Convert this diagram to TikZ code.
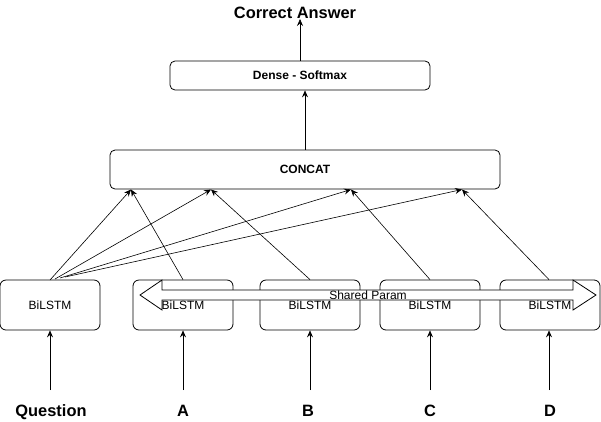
\documentclass[tikz,border=0pt]{standalone}
\usepackage{fontspec}
\setmainfont{Liberation Sans}
\usetikzlibrary{arrows.meta,calc}
\begin{document}
\begin{tikzpicture}[x=1pt,y=-1pt,
  lstm/.style={draw,rounded corners=6pt,line width=0.8pt,minimum width=100pt,minimum height=50pt,inner sep=0pt},
  wide/.style={draw,rounded corners=5pt,line width=0.8pt,inner sep=0pt},
  lbl/.style={font=\fontsize{12}{14}\selectfont},
  blbl/.style={font=\fontsize{12}{14}\selectfont\bfseries},
  big/.style={font=\fontsize{16.4}{19}\selectfont\bfseries,anchor=base,inner sep=0pt},
  conn/.style={draw,line width=0.6pt,-{Stealth[length=7pt,width=6pt,inset=2.5pt]}},
  shared/.style={draw,fill=white,line width=0.8pt}
]
\useasboundingbox (0,0) rectangle (601,421);
% top
\node[big] (ans) at (295,18) {Correct Answer};
\node[wide,minimum width=260pt,minimum height=29pt] (dense) at (300,75.5) {};
\node[blbl] (densel) at (dense.center) {Dense - Softmax};
\node[wide,minimum width=390pt,minimum height=39pt] (concat) at (305,169.5) {};
\node[blbl] (concatl) at (concat.center) {CONCAT};
% lstm boxes
\node[lstm] (q) at (50,305) {};
\node[lstm] (la) at (183,305) {};
\node[lstm] (lb) at (310,305) {};
\node[lstm] (lc) at (430,305) {};
\node[lstm] (ld) at (550,305) {};
% shared param arrow
\draw[shared] (140,295) -- (162,280) -- (162,290) -- (573,290) -- (573,280) -- (596,295)
  -- (573,310) -- (573,300) -- (162,300) -- (162,310) -- cycle;
\node[lbl] (sp) at (368,295.5) {Shared Param};
\foreach \n in {q,la,lb,lc,ld}{\node[lbl] (\n t) at ($(\n.center)+(0,0.5)$) {BiLSTM};}
% inputs
\node[big] (iq) at (51,416) {Question};
\node[big] (ia) at (183,416) {A};
\node[big] (ib) at (308,416) {B};
\node[big] (ic) at (430,416) {C};
\node[big] (id) at (550,416) {D};
\coordinate (sq) at (50,390);
\coordinate (sa) at (183,390);
\coordinate (sb) at (310,390);
\coordinate (sc) at (430,390);
\coordinate (sd) at (549,390);
\draw[conn] (sq) -- (q.south);
\draw[conn] (sa) -- (sa |- la.south);
\draw[conn] (sb) -- (lb.south);
\draw[conn] (sc) -- (lc.south);
\draw[conn] (sd) -- (sd |- ld.south);
% concat targets
\coordinate (c1) at (131,189.5);
\coordinate (c2) at (211,189.5);
\coordinate (c3) at (351,189.5);
\coordinate (c4) at (462,189.5);
\coordinate (q1) at (50,280);
\coordinate (q2) at (55,279);
\coordinate (q3) at (60,278);
\coordinate (q4) at (65,277);
\draw[conn] (q1) -- (c1);
\draw[conn] (q2) -- (c2);
\draw[conn] (q3) -- (c3);
\draw[conn] (q4) -- (c4);
\draw[conn] (la.north) -- (c1);
\draw[conn] (lb.north) -- (c2);
\draw[conn] (lc.north) -- (c3);
\draw[conn] ($(ld.north)+(-1,0)$) -- (c4);
% upper arrows
\draw[conn] (concat.north) -- (concat.north |- dense.south);
\coordinate (top) at (300,19);
\draw[conn] (dense.north) -- (top);
\end{tikzpicture}
\end{document}
